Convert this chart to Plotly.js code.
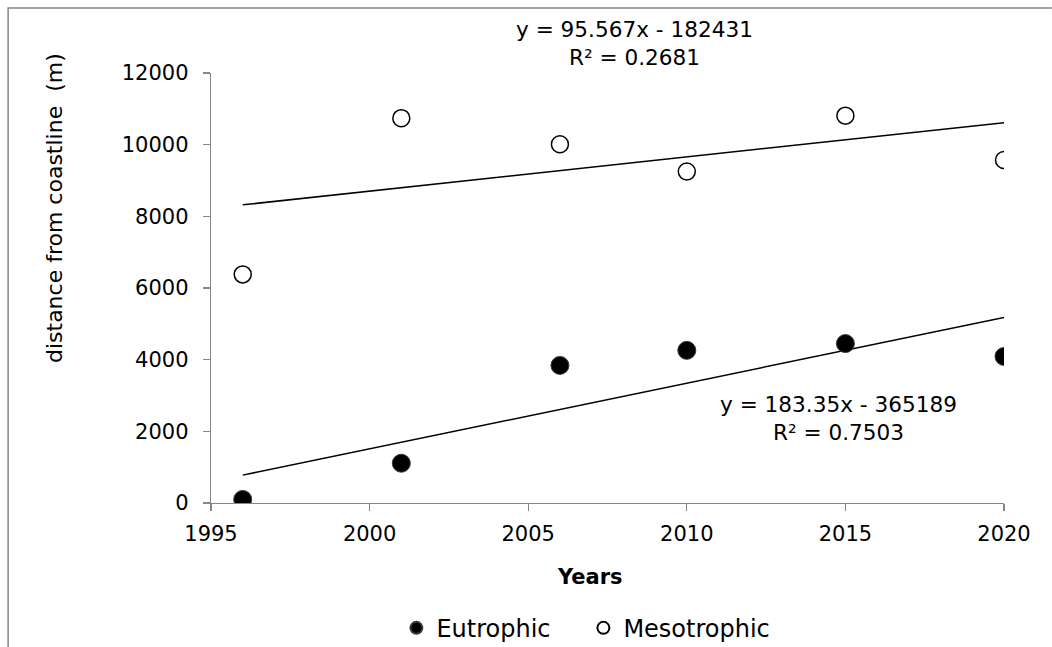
<!DOCTYPE html>
<html>
<head>
<meta charset="utf-8">
<script src="https://cdn.plot.ly/plotly-3.0.1.min.js"></script>
<style>
  html, body { margin: 0; padding: 0; background: #fff; }
  #chart { width: 1052px; height: 647px; }
</style>
</head>
<body>
<div id="chart"></div>
<script>
// ---- data ----
const years = [1996, 2001, 2006, 2010, 2015, 2020];
const eutrophic = [100, 1110, 3840, 4260, 4450, 4090];
const mesotrophic = [6380, 10740, 10010, 9250, 10810, 9570];
// trendline coefficients as printed on the chart
const eutroFit = { slope: 183.35, intercept: -365189, r2: "0.7503" };
const mesoFit = { slope: 95.567, intercept: -182431, r2: "0.2681" };
const xTicks = [1995, 2000, 2005, 2010, 2015, 2020];
const yTicks = [0, 2000, 4000, 6000, 8000, 10000, 12000];

const fitX = [years[0], years[years.length - 1]];
const fitY = f => fitX.map(x => f.slope * x + f.intercept);

const W = 1052, H = 647;
const M = { l: 210.5, r: 48, t: 72.5, b: 144.3, autoexpand: false };
const pw = W - M.l - M.r, ph = H - M.t - M.b;
const px = x => (x - M.l) / pw;
const py = y => (H - M.b - y) / ph;

const FONT = '"DejaVu Sans", Verdana, sans-serif';

const traces = [
  {
    x: years, y: eutrophic, name: 'Eutrophic', type: 'scatter', mode: 'markers',
    marker: { symbol: 'circle', size: 18, color: '#000000', line: { color: '#3a3a3a', width: 1 } }
  },
  {
    x: years, y: mesotrophic, name: 'Mesotrophic', type: 'scatter', mode: 'markers',
    marker: { symbol: 'circle', size: 17, color: '#ffffff', line: { color: '#000000', width: 1.5 } }
  },
  {
    x: fitX, y: fitY(eutroFit), type: 'scatter', mode: 'lines', showlegend: false,
    line: { color: '#000000', width: 1.5 }, hoverinfo: 'skip'
  },
  {
    x: fitX, y: fitY(mesoFit), type: 'scatter', mode: 'lines', showlegend: false,
    line: { color: '#000000', width: 1.5 }, hoverinfo: 'skip'
  }
];
// draw fits beneath markers
const data = [traces[2], traces[3], traces[0], traces[1]];

const fmtEq = f => 'y = ' + f.slope + 'x - ' + Math.abs(f.intercept) + '<br>R² = ' + f.r2;

const layout = {
  width: W, height: H,
  margin: M,
  paper_bgcolor: '#ffffff', plot_bgcolor: '#ffffff',
  font: { family: FONT, size: 21, color: '#000000' },
  showlegend: true,
  legend: {
    orientation: 'h', x: px(396), y: py(628), xanchor: 'left', yanchor: 'middle',
    font: { family: FONT, size: 24, color: '#000000' },
    itemsizing: 'constant', traceorder: 'normal', entrywidth: 142, entrywidthmode: 'pixels'
  },
  xaxis: {
    range: [1995, 2020], tickmode: 'array', tickvals: xTicks, ticktext: xTicks.map(String),
    showgrid: false, zeroline: false, showline: true, linecolor: '#868686', linewidth: 1.3,
    ticks: 'outside', ticklen: 7, tickcolor: '#868686', tickwidth: 1.3,
    tickfont: { family: FONT, size: 21 }, ticklabelstandoff: 4,
    fixedrange: true
  },
  yaxis: {
    range: [0, 12000], tickmode: 'array', tickvals: yTicks, ticktext: yTicks.map(String),
    showgrid: false, zeroline: false, showline: true, linecolor: '#868686', linewidth: 1.3,
    ticks: 'outside', ticklen: 7, tickcolor: '#868686', tickwidth: 1.3,
    tickfont: { family: FONT, size: 21 }, ticklabelstandoff: 10,
    fixedrange: true
  },
  annotations: [
    { xref: 'paper', yref: 'paper', x: px(589.5), y: py(577), text: '<b>Years</b>', showarrow: false,
      xanchor: 'center', yanchor: 'middle', font: { family: FONT, size: 21 } },
    { xref: 'paper', yref: 'paper', x: px(54), y: py(208), text: 'distance from coastline  (m)', showarrow: false,
      textangle: -90, xanchor: 'center', yanchor: 'middle', font: { family: FONT, size: 22 } },
    { xref: 'paper', yref: 'paper', x: px(634), y: py(42.5), text: fmtEq(mesoFit), showarrow: false,
      xanchor: 'center', yanchor: 'middle', align: 'center', font: { family: FONT, size: 21.6 } },
    { xref: 'paper', yref: 'paper', x: px(838.5), y: py(418), text: fmtEq(eutroFit), showarrow: false,
      xanchor: 'center', yanchor: 'middle', align: 'center', font: { family: FONT, size: 21.6 } }
  ],
  shapes: [
    { type: 'line', xref: 'paper', yref: 'paper', x0: px(7), x1: px(1052), y0: py(7.5), y1: py(7.5),
      line: { color: '#868686', width: 1.5 } },
    { type: 'line', xref: 'paper', yref: 'paper', x0: px(7.5), x1: px(7.5), y0: py(7), y1: py(647),
      line: { color: '#868686', width: 1.5 } }
  ]
};

Plotly.newPlot('chart', data, layout, { staticPlot: true, displayModeBar: false });
</script>
</body>
</html>
